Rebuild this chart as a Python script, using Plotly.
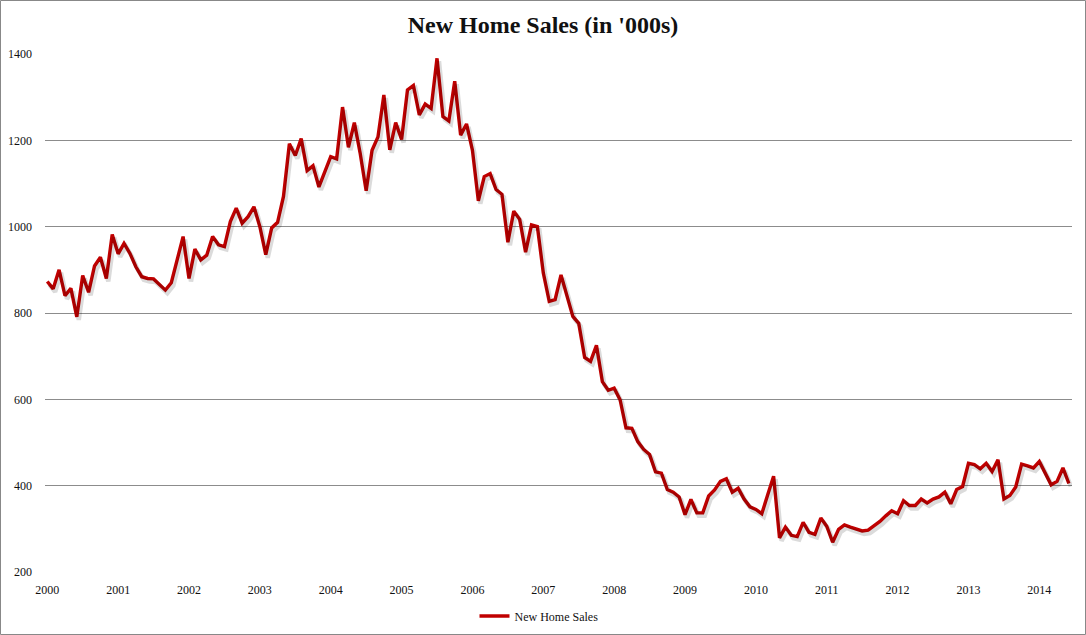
import plotly.graph_objects as go

start_year = 2000
sales = [
    873, 856, 900, 840, 857, 791, 887, 848, 909, 929, 880, 982,
    937, 961, 938, 907, 884, 880, 879, 867, 853, 870, 923, 977,
    880, 948, 923, 934, 977, 958, 954, 1012, 1043, 1008, 1023, 1046,
    1000, 935, 997, 1010, 1070, 1192, 1165, 1204, 1130, 1141, 1092, 1126,
    1162, 1157, 1277, 1184, 1241, 1169, 1083, 1177, 1208, 1305, 1178, 1241,
    1202, 1317, 1327, 1259, 1284, 1274, 1390, 1255, 1245, 1337, 1212, 1238,
    1177, 1060, 1116, 1123, 1086, 1075, 964, 1036, 1017, 941, 1004, 1000,
    893, 827, 831, 888, 843, 792, 776, 697, 688, 725, 641, 621,
    626, 599, 534, 533, 502, 484, 472, 432, 429, 391, 385, 374,
    333, 368, 337, 337, 376, 390, 410, 416, 385, 394, 369, 351,
    345, 335, 379, 422, 279, 304, 285, 282, 315, 292, 287, 325,
    306, 269, 299, 309, 304, 299, 295, 297, 306, 317, 330, 342,
    335, 365, 354, 354, 369, 360, 369, 374, 385, 358, 391, 398,
    452, 449, 439, 452, 433, 460, 369, 377, 397, 450, 446, 441,
    456, 431, 402, 410, 441, 405,
]
x_years = [start_year + i / 12 for i in range(len(sales))]
year_ticks = list(range(2000, 2015))
y_ticks = [200, 400, 600, 800, 1000, 1200, 1400]

W, H = 1086, 635
L, R, T, B = 45, 14, 54, 63
pw, ph = W - L - R, H - T - B
xr = [1999.968, 2014.461]
yr = [200, 1400]
px_x = (xr[1] - xr[0]) / pw
px_y = (yr[1] - yr[0]) / ph

fig = go.Figure()
# soft shadow (same data drawn on an overlaid axis shifted by a few pixels)
fig.add_trace(go.Scatter(
    x=x_years, y=sales, mode="lines", xaxis="x2", yaxis="y2",
    line=dict(color="rgba(0,0,0,0.14)", width=4.5), showlegend=False, hoverinfo="skip"))
fig.add_trace(go.Scatter(
    x=x_years, y=sales, mode="lines", name="New Home Sales",
    line=dict(color="#C00000", width=3.4)))

fig.update_layout(
    width=W, height=H, autosize=False,
    margin=dict(l=L, r=R, t=T, b=B, autoexpand=False),
    paper_bgcolor="white", plot_bgcolor="white",
    title=dict(text="<b>New Home Sales (in '000s)</b>", x=0.5, xanchor="center",
               y=1 - 25 / H, yanchor="middle",
               font=dict(family="Liberation Serif", size=24, color="#111")),
    font=dict(family="Liberation Serif", size=12, color="#111"),
    xaxis=dict(range=xr, tickvals=year_ticks, ticktext=[str(v) for v in year_ticks],
               showgrid=False, zeroline=False, showline=False, ticks="",
               ticklabelstandoff=9, automargin=False,
               tickfont=dict(family="Liberation Serif", size=12)),
    yaxis=dict(range=yr, tickvals=y_ticks, showgrid=True, gridcolor="#8c8c8c",
               gridwidth=1, zeroline=False, showline=False, ticks="",
               ticklabelstandoff=12, automargin=False,
               tickfont=dict(family="Liberation Serif", size=12)),
    xaxis2=dict(range=[xr[0] - 2 * px_x, xr[1] - 2 * px_x], overlaying="x",
                visible=False, automargin=False),
    yaxis2=dict(range=[yr[0] + 3 * px_y, yr[1] + 3 * px_y], overlaying="y",
                visible=False, automargin=False),
    legend=dict(orientation="h", x=0.481, xanchor="center", y=-(616 - 572) / ph,
                yanchor="middle", font=dict(family="Liberation Serif", size=12),
                itemwidth=30, bgcolor="rgba(0,0,0,0)"),
    shapes=[dict(type="rect", xref="paper", yref="paper",
                 x0=-(L - 0.5) / pw, x1=(W - 0.5 - L) / pw,
                 y0=-(B - 0.5) / ph, y1=1 + (T - 0.5) / ph,
                 line=dict(color="#888", width=1), fillcolor="rgba(0,0,0,0)",
                 layer="below")],
)

fig.write_html("out.html",
               config={"displayModeBar": False, "responsive": False},
               post_script="document.body.style.margin='0';document.body.style.padding='0';")
